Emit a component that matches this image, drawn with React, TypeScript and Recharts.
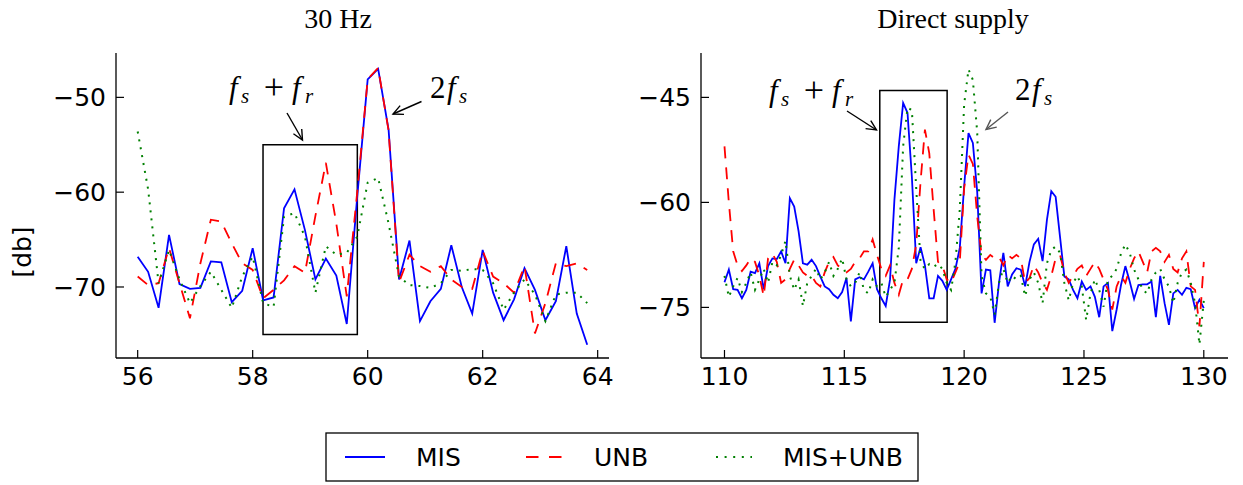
import React from 'react';
import { LineChart, Line, XAxis, YAxis, ReferenceArea } from 'recharts';

// frequency grid: bins of 2/11 Hz
const FREQ_STEP = 2 / 11;

// ---------- 30 Hz panel ----------
const leftStart = 56;
const leftMIS = [-66.8,-68.4,-72.2,-64.5,-69.7,-70.2,-70.1,-67.3,-67.4,-71.6,-70.4,-65.9,-71.4,-71.1,-61.7,-59.7,-64.0,-69.2,-67.0,-68.8,-73.9,-60.5,-48.1,-47.0,-53.4,-69.2,-65.1,-73.6,-71.5,-70.2,-65.6,-70.0,-72.8,-66.1,-70.6,-73.5,-71.3,-68.0,-70.3,-73.5,-71.5,-65.7,-72.8,-76.1];
const leftUNB = [-68.9,-69.8,-69.6,-65.9,-69.6,-73.3,-67.5,-62.9,-63.1,-65.4,-67.5,-68.2,-71.2,-70.3,-69.3,-67.8,-68.5,-62.5,-56.9,-63.3,-71.0,-60.0,-48.1,-46.9,-53.5,-69.5,-66.6,-67.8,-68.4,-67.8,-69.2,-70.0,-70.2,-66.2,-68.9,-69.6,-70.6,-67.8,-74.9,-71.7,-67.5,-67.8,-67.5,-68.2];
const leftBOTH = [-53.6,-59.7,-69.6,-66.1,-69.2,-71.7,-69.9,-68.4,-70.3,-72.2,-68.9,-66.8,-71.7,-72.1,-62.6,-62.2,-64.7,-70.6,-65.7,-66.6,-66.4,-64.7,-59.0,-58.5,-63.3,-68.9,-69.8,-69.9,-70.1,-69.6,-68.2,-68.3,-68.1,-68.2,-69.6,-72.4,-70.6,-69.2,-70.8,-73.6,-70.8,-70.6,-70.6,-71.7];
const leftXTicks = [56, 58, 60, 62, 64];
const leftYTicks = [-70, -60, -50];
const leftXDomain: [number, number] = [55.623, 64.197];
const leftYDomain: [number, number] = [-77.49, -45.32];
const leftBox = { x1: 58.18, x2: 59.82, y1: -75, y2: -55 };

// ---------- Direct supply panel ----------
const rightStart = 110;
const rightMIS = [
-71.4,-69.6,-72.4,-72.5,-73.7,-72.5,-69.9,-70.1,-68.7,-72.4,
-69.1,-68.0,-68.1,-67.0,-68.7,-59.4,-60.6,-64.1,-68.7,-68.9,
-68.2,-69.1,-70.6,-72.0,-72.4,-73.2,-73.7,-72.8,-70.8,-77.0,
-71.0,-70.7,-71.0,-69.9,-68.7,-72.4,-73.7,-74.8,-71.0,-59.6,
-52.0,-45.8,-47.2,-56.3,-68.7,-66.4,-69.0,-73.7,-73.7,-70.5,
-71.2,-72.5,-71.0,-69.5,-66.5,-57.7,-50.1,-51.5,-58.5,-73.0,
-69.6,-69.7,-77.2,-71.5,-67.2,-72.0,-70.3,-69.4,-69.6,-72.0,
-68.5,-66.0,-65.2,-68.4,-62.5,-58.4,-59.2,-64.9,-70.6,-71.0,
-72.5,-73.7,-71.3,-72.5,-72.0,-73.5,-76.4,-72.0,-71.5,-78.4,
-75.3,-71.8,-69.1,-71.3,-73.8,-71.8,-71.7,-71.7,-71.3,-76.4,
-70.5,-74.4,-77.5,-73.0,-72.5,-73.2,-72.2,-72.4,-75.1,-73.9,-75.1];
const rightUNB = [
-52.0,-60.0,-67.0,-69.0,-69.8,-69.0,-68.0,-68.5,-70.5,-73.4,
-68.0,-67.3,-68.5,-71.5,-71.0,-69.5,-68.2,-69.0,-70.0,-70.5,
-70.5,-71.5,-72.0,-70.0,-68.5,-67.8,-69.0,-69.5,-70.0,-69.5,
-68.5,-68.0,-67.0,-67.0,-65.3,-67.5,-69.5,-70.5,-69.0,-71.5,
-73.2,-71.0,-71.0,-69.5,-66.0,-57.0,-49.6,-53.0,-61.0,-68.5,
-69.0,-71.0,-71.5,-70.0,-68.5,-58.0,-53.2,-54.5,-62.0,-67.5,
-68.2,-67.5,-68.0,-67.8,-69.0,-67.5,-68.0,-67.5,-68.0,-71.5,
-70.8,-69.0,-70.0,-71.5,-72.5,-70.5,-68.0,-67.5,-70.0,-71.5,
-70.5,-69.5,-69.0,-70.5,-69.5,-68.5,-69.5,-71.0,-72.5,-75.3,
-72.0,-70.5,-71.5,-69.5,-68.0,-67.0,-68.5,-70.0,-67.0,-66.5,
-67.0,-68.5,-67.5,-69.5,-70.0,-68.0,-67.0,-72.0,-72.5,-77.7,-68.5];
const rightBOTH = [
-70.5,-73.5,-72.0,-70.8,-72.8,-71.5,-70.0,-72.5,-71.0,-69.5,
-71.5,-68.5,-69.0,-67.5,-65.5,-70.5,-72.5,-71.0,-74.8,-71.5,
-70.5,-69.5,-71.0,-70.0,-68.5,-70.5,-69.5,-68.0,-71.0,-72.0,
-71.5,-70.0,-72.5,-73.0,-71.0,-72.0,-71.5,-73.5,-72.5,-71.5,
-66.5,-52.0,-46.5,-46.8,-58.0,-68.5,-69.5,-68.8,-69.2,-68.8,
-69.5,-71.5,-72.5,-68.5,-61.0,-46.0,-41.0,-42.5,-50.0,-70.5,
-73.0,-73.5,-76.0,-71.5,-69.5,-71.5,-70.5,-71.0,-70.5,-73.4,
-71.0,-70.0,-71.5,-74.4,-68.7,-66.8,-66.3,-67.2,-71.5,-74.0,
-71.5,-70.5,-72.0,-76.8,-73.0,-71.0,-72.5,-74.9,-71.0,-70.5,
-69.5,-67.3,-66.0,-67.2,-69.6,-71.0,-72.5,-73.0,-71.0,-70.0,
-69.5,-71.0,-72.0,-74.4,-71.5,-70.0,-69.6,-71.5,-74.4,-80.3,-74.0];
const rightXTicks = [110, 115, 120, 125, 130];
const rightYTicks = [-75, -60, -45];
const rightXDomain: [number, number] = [109.02, 131.01];
const rightYDomain: [number, number] = [-82.23, -38.66];
const rightBox = { x1: 116.48, x2: 119.29, y1: -77.14, y2: -44.0 };

const seriesNames = ['MIS', 'UNB', 'MIS+UNB'];
const titles = ['30 Hz', 'Direct supply'];

const BLUE = '#0000ff';
const RED = '#ff0000';
const GREEN = '#008000';
const SANS = "'DejaVu Sans', sans-serif";
const SERIF = "'Liberation Serif', 'DejaVu Serif', serif";

function build(start: number, a: number[], b: number[], c: number[]) {
  return a.map((v, i) => ({ f: start + i * FREQ_STEP, mis: v, unb: b[i], both: c[i] }));
}

const leftData = build(leftStart, leftMIS, leftUNB, leftBOTH);
const rightData = build(rightStart, rightMIS, rightUNB, rightBOTH);

const tickStyle = { fontSize: 25, fontFamily: SANS, fill: '#000' };
const axisLine = { stroke: '#000', strokeWidth: 1.3 };
const tickLine = { stroke: '#000', strokeWidth: 1.2 };

function Panel(props: {
  data: any[]; xDomain: [number, number]; yDomain: [number, number];
  xTicks: number[]; yTicks: number[]; box: { x1: number; x2: number; y1: number; y2: number };
  width: number; margin: any;
}) {
  const { data, xDomain, yDomain, xTicks, yTicks, box, width, margin } = props;
  return (
    <LineChart width={width} height={400} data={data} margin={margin}>
      <XAxis xAxisId="b" type="number" dataKey="f" domain={xDomain} ticks={xTicks} allowDataOverflow
        orientation="bottom" height={30} tickSize={-8} tickMargin={17} tick={tickStyle}
        axisLine={axisLine} tickLine={tickLine} interval={0} />
      <XAxis xAxisId="t" type="number" dataKey="f" domain={xDomain} ticks={xTicks} allowDataOverflow
        orientation="top" height={0} tickSize={-8} tickFormatter={() => ''}
        axisLine={axisLine} tickLine={tickLine} interval={0} />
      <YAxis yAxisId="l" type="number" domain={yDomain} ticks={yTicks} allowDataOverflow
        orientation="left" width={60} tickSize={-8} tickMargin={18} tick={tickStyle}
        axisLine={axisLine} tickLine={tickLine} interval={0}
        tickFormatter={(v: number) => String(v).replace('-', '\u2212')} />
      <YAxis yAxisId="r" type="number" domain={yDomain} ticks={yTicks} allowDataOverflow
        orientation="right" width={0} tickSize={-8} tickFormatter={() => ''}
        axisLine={axisLine} tickLine={tickLine} interval={0} />
      <Line xAxisId="b" yAxisId="l" dataKey="mis" name={seriesNames[0]} stroke={BLUE} strokeWidth={1.8}
        dot={false} isAnimationActive={false} type="linear" />
      <Line xAxisId="b" yAxisId="l" dataKey="unb" name={seriesNames[1]} stroke={RED} strokeWidth={1.8}
        strokeDasharray="12 9" dot={false} isAnimationActive={false} type="linear" />
      <Line xAxisId="b" yAxisId="l" dataKey="both" name={seriesNames[2]} stroke={GREEN} strokeWidth={2}
        strokeDasharray="2 6" dot={false} isAnimationActive={false} type="linear" />
      <ReferenceArea xAxisId="b" yAxisId="l" x1={box.x1} x2={box.x2} y1={box.y1} y2={box.y2}
        fill="none" fillOpacity={0} stroke="#000" strokeWidth={1.5} strokeOpacity={1} ifOverflow="visible" />
    </LineChart>
  );
}

function Arrow({ x1, y1, x2, y2, color = '#000' }: { x1: number; y1: number; x2: number; y2: number; color?: string }) {
  const ang = Math.atan2(y2 - y1, x2 - x1);
  const L = 11, A = 0.45;
  const p1 = [x2 - L * Math.cos(ang - A), y2 - L * Math.sin(ang - A)];
  const p2 = [x2 - L * Math.cos(ang + A), y2 - L * Math.sin(ang + A)];
  return (
    <g stroke={color} strokeWidth={1.4} fill="none">
      <line x1={x1} y1={y1} x2={x2} y2={y2} />
      <polyline points={`${p1[0]},${p1[1]} ${x2},${y2} ${p2[0]},${p2[1]}`} />
    </g>
  );
}

function FsFr({ x, y }: { x: number; y: number }) {
  return (
    <g fontFamily={SERIF} fill="#000">
      <text x={x} y={y} fontSize={31} fontStyle="italic">f</text>
      <text x={x + 12} y={y + 5} fontSize={21} fontStyle="italic">s</text>
      <text x={x + 45} y={y + 1} fontSize={36} textAnchor="middle">+</text>
      <text x={x + 63} y={y} fontSize={31} fontStyle="italic">f</text>
      <text x={x + 76} y={y + 5} fontSize={21} fontStyle="italic">r</text>
    </g>
  );
}

function TwoFs({ x, y }: { x: number; y: number }) {
  return (
    <g fontFamily={SERIF} fill="#000">
      <text x={x} y={y} fontSize={31}>2</text>
      <text x={x + 17} y={y} fontSize={31} fontStyle="italic">f</text>
      <text x={x + 29} y={y + 5} fontSize={21} fontStyle="italic">s</text>
    </g>
  );
}

export default function App() {
  return (
    <div style={{ position: 'absolute', left: 0, top: 0, width: 1243, height: 485, background: '#fff', overflow: 'hidden' }}>
      <div style={{ position: 'absolute', left: 0, top: 0 }}>
        <Panel data={leftData} xDomain={leftXDomain} yDomain={leftYDomain} xTicks={leftXTicks} yTicks={leftYTicks}
          box={leftBox} width={620} margin={{ top: 53, right: 11, bottom: 12, left: 56 }} />
      </div>
      <div style={{ position: 'absolute', left: 620, top: 0 }}>
        <Panel data={rightData} xDomain={rightXDomain} yDomain={rightYDomain} xTicks={rightXTicks} yTicks={rightYTicks}
          box={rightBox} width={620} margin={{ top: 53, right: 12, bottom: 12, left: 21 }} />
      </div>
      <svg width={1243} height={485} style={{ position: 'absolute', left: 0, top: 0, pointerEvents: 'none' }}>
        <text x={338} y={28} fontFamily={SERIF} fontSize={28} textAnchor="middle">{titles[0]}</text>
        <text x={953} y={28} fontFamily={SERIF} fontSize={28} textAnchor="middle">{titles[1]}</text>
        <text transform="translate(31,252) rotate(-90)" fontFamily={SANS} fontSize={25} textAnchor="middle">[db]</text>

        <FsFr x={229} y={98} />
        <Arrow x1={287} y1={113} x2={302.5} y2={140} />
        <TwoFs x={430} y={98} />
        <Arrow x1={421.5} y1={101.5} x2={393} y2={114} />

        <FsFr x={769} y={101} />
        <Arrow x1={847} y1={111} x2={876.5} y2={130} />
        <TwoFs x={1015} y={100} />
        <Arrow x1={1008} y1={112} x2={986} y2={129.5} color="#555" />

        <rect x={326} y={433} width={592} height={48} fill="#fff" stroke="#000" strokeWidth={1.3} />
        <line x1={345} y1={457} x2={385} y2={457} stroke={BLUE} strokeWidth={1.8} />
        <text x={416} y={466} fontFamily={SANS} fontSize={25}>{seriesNames[0]}</text>
        <line x1={526} y1={457} x2={562} y2={457} stroke={RED} strokeWidth={1.8} strokeDasharray="12.5 10.5" />
        <text x={594} y={466} fontFamily={SANS} fontSize={25}>{seriesNames[1]}</text>
        <line x1={716} y1={457} x2={752} y2={457} stroke={GREEN} strokeWidth={2} strokeDasharray="2 6.6" />
        <text x={783} y={466} fontFamily={SANS} fontSize={25}>{seriesNames[2]}</text>
      </svg>
    </div>
  );
}
